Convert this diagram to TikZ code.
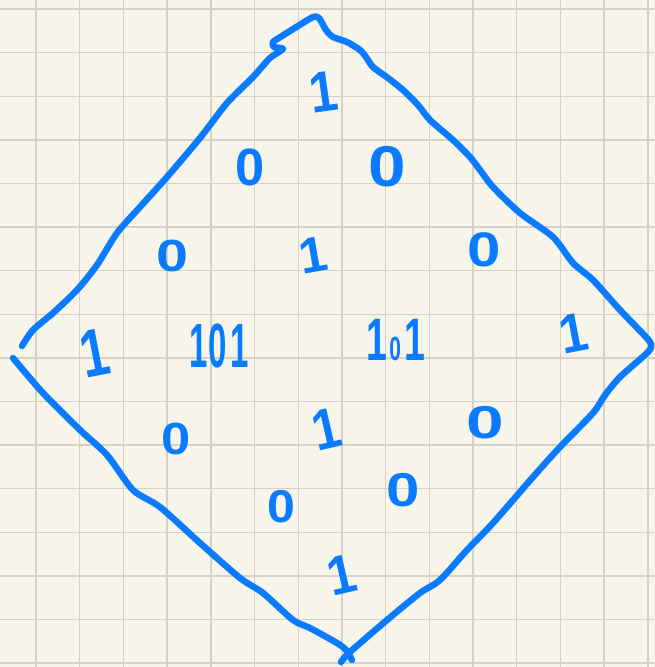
\documentclass[tikz,border=0pt]{standalone}
\usepackage{fontspec}
\setmainfont{Liberation Sans}
\definecolor{paper}{HTML}{F7F5EA}
\definecolor{gridc}{HTML}{D5D2C5}
\definecolor{ink}{HTML}{0A7BFF}
\begin{document}
\begin{tikzpicture}[x=1pt,y=-1pt,
  pen/.style={ink,line width=6.5pt,line cap=round,line join=round},
  digit/.style={text=ink,inner sep=0pt,font=\bfseries\fontsize{50}{50}\selectfont}]
\useasboundingbox (0,0) rectangle (655,667);
\fill[paper] (0,0) rectangle (655,667);
% grid
\foreach \k in {0,...,14}{\draw[gridc,line width=1.4pt] ({36+43.7*\k},0) -- ({36+43.7*\k},667);}
\foreach \k in {0,...,15}{\draw[gridc,line width=1.4pt] (0,{9+43.6*\k}) -- (655,{9+43.6*\k});}
% outline
\draw[pen] plot[smooth,tension=0.45] coordinates {
 (22,346) (33,330) (53,313) (77,290) (97,265) (117,233) (140,207) (167,177)
 (200,138) (227,103) (253,77) (270,58) (283,49) (274,47) (273,42) (282,36)
 (298,26) (313,17) (319,18) (326,30) (333,37) (347,42) (360,50) (366,57)
 (373,67) (388,78) (403,90) (418,105) (430,120) (453,140) (470,157) (480,170)
 (493,187) (520,213) (553,237) (573,263) (593,280) (620,310) (645,336) (651,344)
 (648,352) (620,377) (605,395) (593,413) (560,447) (533,477) (493,523) (467,550)
 (440,580) (420,593) (387,620) (350,652) (341,662)};
\draw[pen] plot[smooth,tension=0.45] coordinates {
 (352,660) (346,650) (337,643) (310,628) (293,620) (263,593) (240,578) (200,543)
 (160,507) (133,490) (107,455) (80,430) (43,393) (13,358)};
% digits
\node[digit,rotate=8,yscale=1.15] (d1) at (324,92) {1};
\node[digit,yscale=1.05,xscale=1.05] (d2) at (250,167) {0};
\node[digit,yscale=1.15,xscale=1.35] (d3) at (387,167) {0};
\node[digit,yscale=0.9,xscale=1.15] (d4) at (172,256) {0};
\node[digit,rotate=10] (d5) at (313,255) {1};
\node[digit,yscale=0.97,xscale=1.2] (d6) at (484,250) {0};
\node[digit,rotate=11,yscale=1.35] (d7) at (95,353) {1};
\node[digit,xscale=0.66,yscale=1.25] (d8) at (219,346) {1\kern2pt0\kern5pt1};
\node[digit,xscale=0.75,yscale=1.2] (d9) at (396,340) {1\kern3pt{\fontsize{28}{28}\selectfont 0}\kern5pt1};
\node[digit,rotate=11,yscale=1.1] (d10) at (574,333) {1};
\node[digit,rotate=13,yscale=1.15] (d11) at (327,429) {1};
\node[digit,yscale=0.9,xscale=1.05] (d12) at (176,439) {0};
\node[digit,yscale=0.92,xscale=1.35] (d13) at (485,423) {0};
\node[digit,yscale=0.92,xscale=1.0] (d14) at (281,507) {0};
\node[digit,yscale=0.95,xscale=1.2] (d15) at (403,490) {0};
\node[digit,rotate=13,yscale=1.1] (d16) at (342,575) {1};
\end{tikzpicture}
\end{document}
